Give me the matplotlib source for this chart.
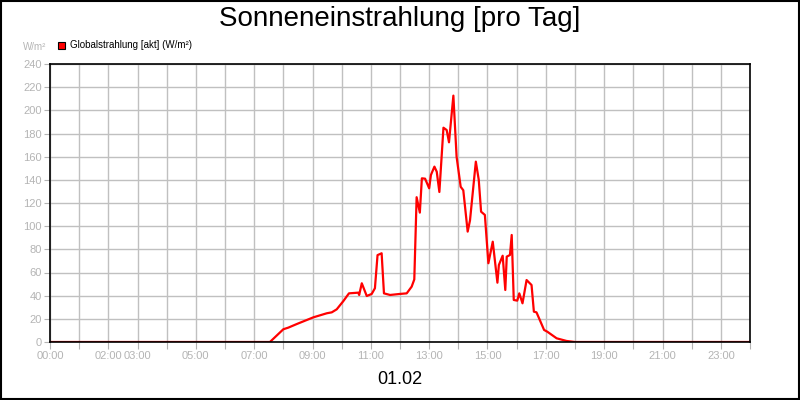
import matplotlib
matplotlib.use('Agg')
import matplotlib.pyplot as plt
from matplotlib.patches import Rectangle

# Zeit (Stunden) und Globalstrahlung [W/m²]
hours = [0.0, 7.0, 7.54, 8.0, 8.17, 8.46, 9.03, 9.49, 9.66, 9.83, 10.06, 10.25,
         10.57, 10.6, 10.69, 10.86, 11.03, 11.14, 11.23, 11.37, 11.45, 11.66,
         12.0, 12.23, 12.4, 12.49, 12.57, 12.68, 12.75, 12.86, 13.0, 13.06,
         13.18, 13.26, 13.35, 13.49, 13.6, 13.68, 13.83, 13.94, 14.08, 14.17,
         14.32, 14.4, 14.6, 14.7, 14.78, 14.91, 15.03, 15.18, 15.34, 15.39,
         15.52, 15.61, 15.66, 15.77, 15.83, 15.9, 16.02, 16.09, 16.2, 16.34,
         16.51, 16.59, 16.68, 16.94, 17.05, 17.37, 17.71, 18.0, 24.0]
values = [0, 0, 0, 11, 12.4, 15.5, 21.3, 24.8, 25.6, 28.2, 35.4, 42,
          42.6, 40.6, 50.7, 39.7, 41.5, 46.4, 75, 76.6, 42, 40.6,
          41.5, 42, 47.8, 54, 125, 111.7, 141.3, 141, 132.7, 144.2,
          151.4, 147, 129.5, 185, 183, 172.4, 212.7, 160, 134, 131,
          95.3, 105, 155.7, 140, 112.5, 109.7, 68, 86.6, 51.2, 66.5,
          74.5, 44.9, 73.7, 75.1, 92.4, 36.3, 35.7, 42, 33.4, 53.5,
          49.2, 26.2, 25.6, 10.4, 8.9, 3.2, 0.9, 0, 0]

x_labels = ['00:00', '02:00', '03:00', '05:00', '07:00', '09:00', '11:00',
            '13:00', '15:00', '17:00', '19:00', '21:00', '23:00']
x_label_hours = [0, 2, 3, 5, 7, 9, 11, 13, 15, 17, 19, 21, 23]
y_ticks = list(range(0, 241, 20))

plt.rcParams['font.family'] = ['Liberation Sans', 'DejaVu Sans']
grey = '#b4b4b4'

fig = plt.figure(figsize=(8, 4), dpi=100)
fig.patch.set_facecolor('white')
fig.add_artist(Rectangle((0.001, 0.002), 0.998, 0.996, transform=fig.transFigure,
                         fill=False, edgecolor='black', linewidth=1.5))

ax = fig.add_axes([50 / 800, 58 / 400, 700 / 800, 278 / 400])
ax.plot(hours, values, color='#ff0000', linewidth=1.6)

ax.set_xlim(0, 24)
ax.set_ylim(0, 240)
hour_ticks = list(range(0, 25))
tick_text = []
for h in hour_ticks:
    if h in x_label_hours:
        tick_text.append(x_labels[x_label_hours.index(h)])
    else:
        tick_text.append('')
ax.set_xticks(hour_ticks)
ax.set_xticklabels(tick_text)
ax.tick_params(axis='x', length=5, color=grey, labelcolor=grey, labelsize=8, pad=1.5)
ax.set_yticks(y_ticks)
ax.tick_params(axis='y', length=4, color=grey, labelcolor=grey, labelsize=8, pad=2)
ax.grid(True, color='#c0c0c0', linewidth=1)
ax.set_axisbelow(True)
for s in ax.spines.values():
    s.set_linewidth(1.2)
    s.set_color('black')

fig.text(0.5, 1 - 19 / 400, 'Sonneneinstrahlung [pro Tag]', ha='center', va='center',
         fontsize=20)
fig.text(0.5, 1 - 380 / 400, '01.02', ha='center', va='center', fontsize=13)
fig.text(23 / 800, 1 - 47 / 400, 'W/m²', ha='left', va='center', fontsize=7, color=grey)
fig.add_artist(Rectangle((58 / 800, 1 - 48.5 / 400), 7 / 800, 7 / 400,
                         transform=fig.transFigure, facecolor='#ff0000',
                         edgecolor='black', linewidth=0.8))
fig.text(70 / 800, 1 - 44.5 / 400, 'Globalstrahlung [akt] (W/m²)', ha='left',
         va='center', fontsize=7)

fig.savefig('out.png', dpi=100)
